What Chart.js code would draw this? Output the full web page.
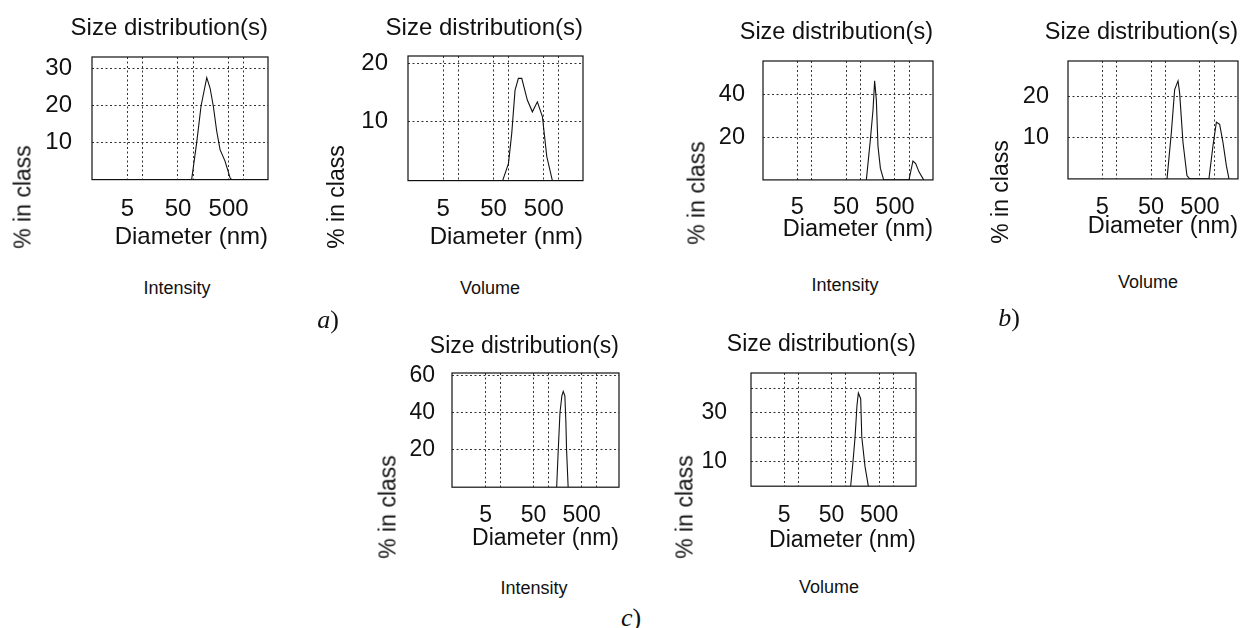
<!DOCTYPE html>
<html>
<head>
<meta charset="utf-8">
<script src="https://cdn.jsdelivr.net/npm/chart.js@4.4.1/dist/chart.umd.min.js"></script>
<style>
  body { margin: 0; background: #fff; }
  #fig { position: relative; width: 1240px; height: 628px; overflow: hidden;
         font-family: "Liberation Sans", Arial, sans-serif; color: #111; }
  #fig canvas { position: absolute; }
  .txt { position: absolute; white-space: nowrap; line-height: 1; transform: translate(-50%, -50%); }
  .ylab { font-size: 23px; transform: translate(-50%, -50%) rotate(-90deg); }
  .cap { font-size: 18px; }
  .letter { font-family: "Liberation Serif", "Times New Roman", serif; font-size: 26px; }
</style>
</head>
<body>
<div id="fig"></div>
<script>
// x axis (log, nm): dotted grid values and the ones that get a label
const xGrid = [5, 10, 50, 100, 500, 1000];
const xLabels = [5, 50, 500];

// a) Intensity / Volume
const aIntDiam = [93, 117, 143, 185, 215, 250, 291, 339, 425, 534, 576];
const aIntPct = [0, 10, 20, 27.6, 24.8, 19.8, 13.1, 8.1, 5, 0.5, 0];
const aIntYTicks = [10, 20, 30];

const aVolDiam = [76, 99, 115, 134, 156, 182, 235, 296, 372, 468, 572, 739];
const aVolPct = [0, 2.9, 8, 15.4, 17.4, 17.4, 13.7, 11.7, 13.4, 10.9, 4.1, 0];
const aVolYTicks = [10, 20];

// b) Intensity / Volume
const bIntDiam = [130, 157, 178, 192, 208, 225, 252, 294, 968, 1167, 1327, 1549, 1933];
const bIntPct = [0, 18.9, 33, 46.7, 37.8, 15.7, 5.4, 0, 0, 8.9, 7.7, 3.8, 0];
const bIntYTicks = [20, 40];

const bVolDiam = [106, 130, 152, 178, 192, 225, 271, 308, 764, 923, 1083, 1265, 1479, 1734, 1960];
const bVolPct = [0, 11.2, 21.6, 23.7, 20.8, 8.8, 0.8, 0, 0, 8, 13.7, 13.2, 8.8, 3.2, 0];
const bVolYTicks = [10, 20];

// c) Intensity / Volume
const cIntDiam = [151, 163, 177, 194, 207, 224, 235, 243, 262];
const cIntPct = [0, 20, 40, 49, 51.4, 49, 35, 20, 0];
const cIntYTicks = [20, 40, 60];

const cVolDiam = [126, 141, 156, 171, 183, 205, 216, 253, 297];
const cVolPct = [0, 10, 20.1, 33, 38.1, 35.8, 20.1, 8, 0];
const cVolYGrid = [10, 20, 30, 40];
const cVolYLabels = [10, 30];

const FONT = '"Liberation Sans", Arial, sans-serif';
const INK = '#111';
const YW = 60;   // y axis width
const PR = 4;    // right padding

// box = plot area [left, top, right, bottom] on the page
const panels = [
  { diam: aIntDiam, pct: aIntPct, yMax: 33.2, yGrid: aIntYTicks, yLabels: aIntYTicks,
    box: [92, 57, 268, 180], fs: 24, titleY: 28, yPad: 20, xTickY: 210, xTitleY: 238,
    ylab: [23, 197], cap: 'Intensity', capPos: [177, 288] },
  { diam: aVolDiam, pct: aVolPct, yMax: 21.2, yGrid: aVolYTicks, yLabels: aVolYTicks,
    box: [408, 56, 583, 181], fs: 24, titleY: 28, yPad: 20, xTickY: 210, xTitleY: 238,
    ylab: [336, 197], cap: 'Volume', capPos: [490, 288] },
  { diam: bIntDiam, pct: bIntPct, yMax: 56, yGrid: bIntYTicks, yLabels: bIntYTicks,
    box: [763, 61, 933, 180], fs: 23.5, titleY: 32, yPad: 18, xTickY: 208, xTitleY: 230,
    ylab: [697, 193], cap: 'Intensity', capPos: [845, 285] },
  { diam: bVolDiam, pct: bVolPct, yMax: 28.5, yGrid: bVolYTicks, yLabels: bVolYTicks,
    box: [1068, 61, 1238, 179], fs: 23.5, titleY: 32, yPad: 19, xTickY: 208, xTitleY: 227,
    ylab: [1000, 192], cap: 'Volume', capPos: [1148, 282] },
  { diam: cIntDiam, pct: cIntPct, yMax: 61.3, yGrid: cIntYTicks, yLabels: cIntYTicks,
    box: [452, 373, 619, 487], fs: 23, titleY: 347, yPad: 17, xTickY: 515, xTitleY: 538,
    ylab: [388, 507], cap: 'Intensity', capPos: [534, 588] },
  { diam: cVolDiam, pct: cVolPct, yMax: 46.3, yGrid: cVolYGrid, yLabels: cVolYLabels,
    box: [751, 373, 916, 486], fs: 23, titleY: 345, yPad: 24, xTickY: 515, xTitleY: 540,
    ylab: [685, 507], cap: 'Volume', capPos: [829, 587] }
];

const letters = [
  { html: '<i>a</i>)', pos: [328, 320] },
  { html: '<i>b</i>)', pos: [1009, 318] },
  { html: '<i>c</i>)', pos: [631, 618] }
];

const fig = document.getElementById('fig');

// solid box round the plot area
const frame = {
  id: 'frame',
  afterDraw(chart) {
    const { ctx, chartArea: a } = chart;
    ctx.save();
    ctx.strokeStyle = INK;
    ctx.lineWidth = 1.2;
    ctx.strokeRect(a.left, a.top, a.right - a.left, a.bottom - a.top);
    ctx.restore();
  }
};

function addText(cls, html, pos) {
  const el = document.createElement('div');
  el.className = 'txt ' + cls;
  el.innerHTML = html;
  el.style.left = pos[0] + 'px';
  el.style.top = pos[1] + 'px';
  fig.appendChild(el);
}

function makePanel(p) {
  const [L, T, R, B] = p.box;
  const lh = 1.2 * p.fs;
  const top = Math.round(p.titleY - lh / 2);
  const left = L - YW;
  const xH = p.xTitleY - B + lh / 2;
  const w = R + PR - left;
  const h = Math.round(B + xH - top);
  const titlePadBottom = T - top - lh;

  const cv = document.createElement('canvas');
  cv.width = w; cv.height = h;
  cv.style.left = left + 'px'; cv.style.top = top + 'px';
  cv.style.width = w + 'px'; cv.style.height = h + 'px';
  fig.appendChild(cv);

  const font = { family: FONT, size: p.fs, weight: 'normal', lineHeight: 1.2 };
  const gridStyle = { color: '#333', lineWidth: 1, drawTicks: false };
  const dotted = { display: false, dash: [2, 2.5] };

  new Chart(cv, {
    type: 'scatter',
    data: {
      datasets: [{
        data: p.diam.map((d, i) => ({ x: d, y: p.pct[i] })),
        showLine: true,
        borderColor: INK,
        borderWidth: 1.1,
        pointRadius: 0,
        tension: 0,
        fill: false
      }]
    },
    options: {
      responsive: false,
      animation: false,
      devicePixelRatio: 1,
      layout: { padding: { top: 0, right: PR, bottom: 0, left: 0 } },
      plugins: {
        legend: { display: false },
        tooltip: { enabled: false },
        title: {
          display: true,
          text: 'Size distribution(s)',
          align: 'end',
          fullSize: true,
          color: INK,
          font: font,
          padding: { top: 0, bottom: titlePadBottom }
        }
      },
      scales: {
        x: {
          type: 'logarithmic',
          min: 1,
          max: 3000,
          afterBuildTicks: s => { s.ticks = xGrid.map(v => ({ value: v })); },
          afterFit: s => { s.height = xH; },
          grid: gridStyle,
          border: dotted,
          ticks: {
            autoSkip: false,
            maxRotation: 0,
            padding: p.xTickY - B - lh / 2,
            color: INK,
            font: font,
            callback: v => xLabels.includes(v) ? String(v) : ''
          },
          title: {
            display: true,
            text: 'Diameter (nm)',
            align: 'end',
            color: INK,
            font: font,
            padding: { top: 0, bottom: 0 }
          }
        },
        y: {
          min: 0,
          max: p.yMax,
          afterBuildTicks: s => { s.ticks = p.yGrid.map(v => ({ value: v })); },
          afterFit: s => { s.width = YW; },
          grid: gridStyle,
          border: dotted,
          ticks: {
            padding: p.yPad,
            color: INK,
            font: font,
            callback: v => p.yLabels.includes(v) ? String(v) : ''
          }
        }
      }
    },
    plugins: [frame]
  });

  addText('ylab', '% in class', p.ylab);
  addText('cap', p.cap, p.capPos);
}

panels.forEach(makePanel);
letters.forEach(l => addText('letter', l.html, l.pos));
</script>
</body>
</html>
